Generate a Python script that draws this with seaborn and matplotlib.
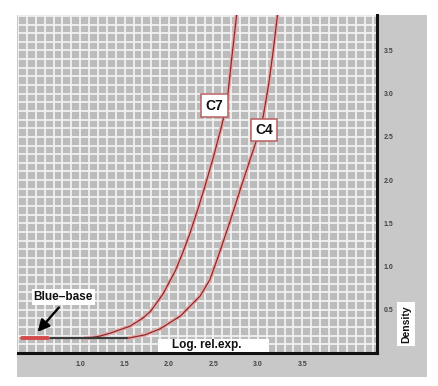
import matplotlib
matplotlib.use("Agg")
import matplotlib.pyplot as plt
from matplotlib.patches import Rectangle
from matplotlib.ticker import MultipleLocator, FixedLocator
import seaborn as sns
import pandas as pd

# ---- data ----
c7_x = [1.05, 1.20, 1.34, 1.56, 1.70, 1.79, 1.93, 2.07, 2.15, 2.23, 2.32, 2.41, 2.50, 2.59, 2.65, 2.70, 2.76]
c7_y = [0.17, 0.19, 0.23, 0.31, 0.40, 0.48, 0.68, 0.95, 1.15, 1.37, 1.65, 1.95, 2.27, 2.62, 2.88, 3.36, 3.91]
c4_x = [1.53, 1.73, 1.90, 2.13, 2.35, 2.46, 2.54, 2.63, 2.72, 2.81, 2.90, 2.99, 3.06, 3.12, 3.17, 3.22]
c4_y = [0.17, 0.21, 0.28, 0.43, 0.66, 0.85, 1.08, 1.35, 1.63, 1.92, 2.20, 2.48, 2.74, 3.10, 3.48, 3.91]
base_x = [0.66, 1.53]
base_y = [0.17, 0.17]
bluebase_x = [0.35, 0.64]
bluebase_y = [0.17, 0.17]
x_ticks = [1.0, 1.5, 2.0, 2.5, 3.0, 3.5]
x_labels = ["1.0", "1.5", "2.0", "2.5", "3.0", "3.5"]
y_ticks = [0.5, 1.0, 1.5, 2.0, 2.5, 3.0, 3.5]
y_labels = ["0.5", "1.0", "1.5", "2.0", "2.5", "3.0", "3.5"]
curve_names = ["C7", "C4"]

sns.set_style("white")
plt.rcParams["font.family"] = ["Liberation Sans", "DejaVu Sans"]

fig = plt.figure(figsize=(4.38, 3.86), dpi=100)
fig.patch.set_facecolor("white")
# outer gray panel (background axes)
bg = fig.add_axes([17 / 438, 1 - 377 / 386, 410 / 438, 362 / 386], zorder=-5)
bg.set_facecolor("#c8c8c8")
bg.set_xticks([])
bg.set_yticks([])
for s in bg.spines.values():
    s.set_visible(False)

ax = fig.add_axes([18 / 438, 1 - 353 / 386, 359 / 438, 338 / 386], zorder=1)
ax.set_facecolor("#bcbcbc")

# curves
df7 = pd.DataFrame({"x": c7_x, "y": c7_y})
df4 = pd.DataFrame({"x": c4_x, "y": c4_y})
for df in (df7, df4):
    sns.lineplot(data=df, x="x", y="y", ax=ax, color="#e4adad", linewidth=2.8,
                 sort=False, estimator=None, zorder=3)
    sns.lineplot(data=df, x="x", y="y", ax=ax, color="#8e2828", linewidth=0.9,
                 sort=False, estimator=None, zorder=4)
sns.lineplot(x=base_x, y=base_y, ax=ax, color="#3a3a3a", linewidth=1.6,
             estimator=None, zorder=5)
sns.lineplot(x=bluebase_x, y=bluebase_y, ax=ax, color="#d44a4a", linewidth=2.8,
             estimator=None, zorder=5)
ax.set_xlabel("")
ax.set_ylabel("")
ax.set_xlim(0.3, 4.34)
ax.set_ylim(0, 3.91)

ax.xaxis.set_minor_locator(MultipleLocator(0.1))
ax.yaxis.set_minor_locator(MultipleLocator(0.1))
ax.grid(which="both", color="#f2f2f2", linewidth=1.3)
ax.set_axisbelow(True)

for s in ["left", "top"]:
    ax.spines[s].set_visible(False)
for s in ["right", "bottom"]:
    ax.spines[s].set_color("#111111")
    ax.spines[s].set_linewidth(2.2)

ax.yaxis.tick_right()
ax.set_xticks(x_ticks)
ax.set_xticklabels(x_labels)
ax.set_yticks(y_ticks)
ax.set_yticklabels(y_labels)
ax.tick_params(axis="both", which="both", length=0)
ax.tick_params(axis="x", pad=6, labelsize=5, labelcolor="#444444")
ax.tick_params(axis="y", pad=5, labelsize=5, labelcolor="#444444")
for lab in ax.get_xticklabels() + ax.get_yticklabels():
    lab.set_fontweight("bold")

# curve labels
box = dict(boxstyle="square,pad=0.32", facecolor="white", edgecolor="#b86060", linewidth=1.1)
ax.text(2.51, 2.86, curve_names[0], ha="center", va="center", fontsize=10,
        fontweight="bold", color="#111111", bbox=box, zorder=6)
ax.text(3.07, 2.58, curve_names[1], ha="center", va="center", fontsize=10,
        fontweight="bold", color="#111111", bbox=box, zorder=6)

# Blue-base annotation
ax.annotate("", xy=(0.50, 0.22), xytext=(0.78, 0.55),
            arrowprops=dict(arrowstyle="-|>,head_length=0.7,head_width=0.35",
                            color="black", linewidth=1.7), zorder=6)
ax.text(0.81, 0.65, "Blue\u2013base", ha="center", va="center", fontsize=8.5,
        fontweight="bold", color="#111111",
        bbox=dict(boxstyle="square,pad=0.15", facecolor="white", edgecolor="none"),
        zorder=6)

# x axis title box inside the plot
ax.add_patch(Rectangle((1.88, 0.015), 1.24, 0.15, facecolor="white",
                       edgecolor="none", zorder=6))
ax.text(2.42, 0.09, "Log. rel.exp.", ha="center", va="center", fontsize=8.5,
        fontweight="bold", color="#111111", zorder=7)

# Density label
fig.text(406 / 438, 1 - 324 / 386, "Density", rotation=90, ha="center", va="center",
         fontsize=7.5, fontweight="bold", color="#111111", zorder=10,
         bbox=dict(boxstyle="square,pad=0.35", facecolor="white", edgecolor="none"))

fig.savefig("out.png", dpi=100, facecolor="white")
